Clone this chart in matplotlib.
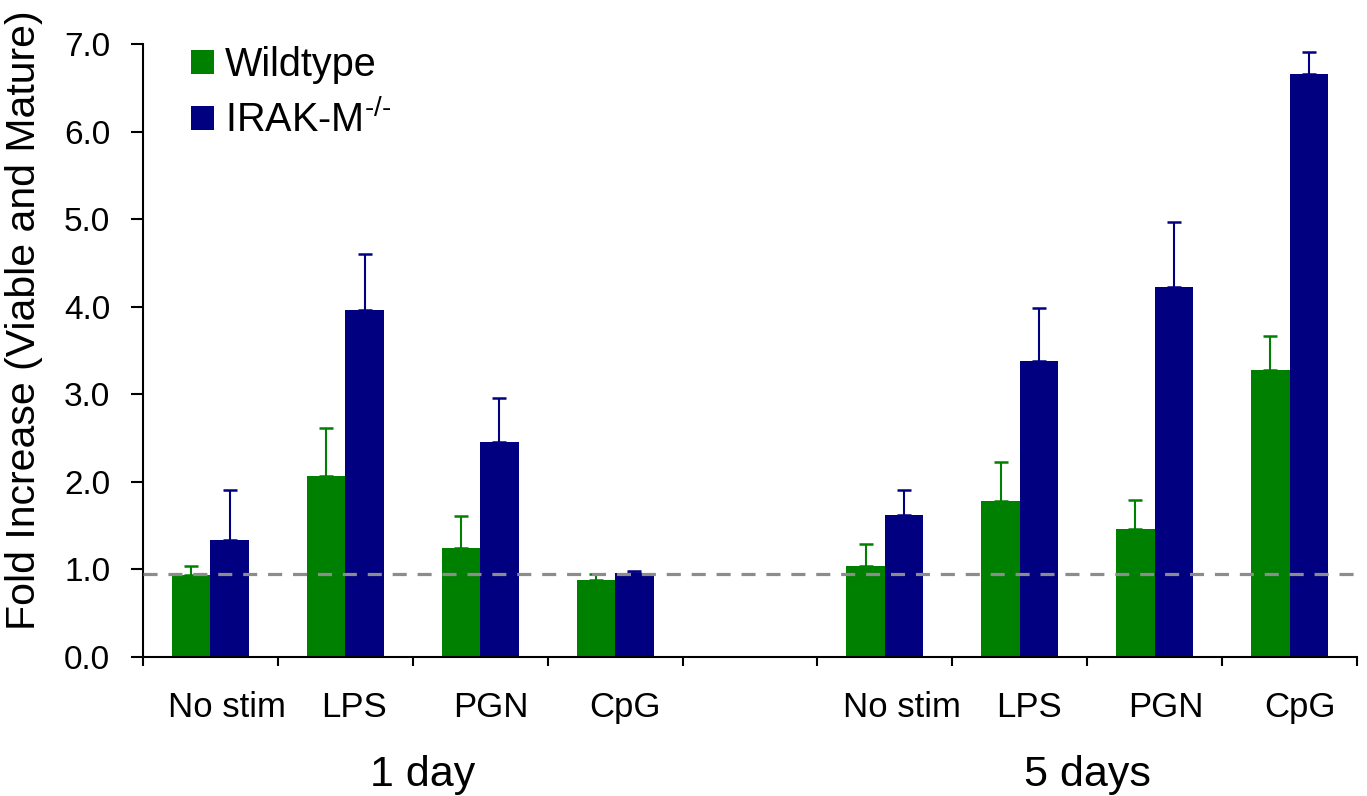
"""Fold increase of viable and mature cells: wildtype vs IRAK-M-/- after 1 and 5 days."""

from __future__ import annotations

import matplotlib

matplotlib.use("Agg")

import matplotlib.pyplot as plt
import numpy as np
from matplotlib.patches import Patch


TIMEPOINTS = ["1 day", "5 days"]
STIMULI = ["No stim", "LPS", "PGN", "CpG"]

WT_MEANS = [0.94, 2.07, 1.24, 0.88, 1.04, 1.78, 1.46, 3.28]
WT_ERRORS = [0.10, 0.55, 0.37, 0.07, 0.25, 0.45, 0.33, 0.39]
KO_MEANS = [1.34, 3.96, 2.45, 0.96, 1.62, 3.38, 4.23, 6.66]
KO_ERRORS = [0.57, 0.64, 0.51, 0.02, 0.29, 0.61, 0.74, 0.25]

BASELINE = 0.95
SERIES_LABELS = ["Wildtype", "IRAK-M$^{\\mathregular{\u2010/\u2010}}$"]

WT_COLOR = "#008000"
KO_COLOR = "#000080"
BAR_WIDTH = 0.285
LABEL_SHIFT = [0.125, 0.067, 0.08, 0.074]
GROUP_LABEL_X = [2.07, 7.0]


def slot_positions() -> np.ndarray:
    """Centre of every category slot; one empty slot separates the timepoints."""
    slots = [g * (len(STIMULI) + 1) + i for g in range(len(TIMEPOINTS)) for i in range(len(STIMULI))]
    return np.array(slots, dtype=float) + 0.5


def main() -> None:
    plt.rcParams["font.family"] = ["Liberation Sans", "DejaVu Sans"]
    plt.rcParams["mathtext.fontset"] = "custom"
    plt.rcParams["mathtext.rm"] = "Liberation Sans"

    fig = plt.figure(figsize=(13.67, 7.96), dpi=100)
    ax = fig.add_axes([0.1046, 0.1746, 0.8881, 0.7701])

    x = slot_positions()
    n_slots = len(TIMEPOINTS) * (len(STIMULI) + 1) - 1

    ax.bar(x - BAR_WIDTH / 2, WT_MEANS, width=BAR_WIDTH, color=WT_COLOR, zorder=2)
    ax.bar(x + BAR_WIDTH / 2, KO_MEANS, width=BAR_WIDTH, color=KO_COLOR, zorder=2)

    zeros = np.zeros(len(x))
    ax.errorbar(x - BAR_WIDTH / 2, WT_MEANS, yerr=[zeros, WT_ERRORS], fmt="none",
                ecolor=WT_COLOR, elinewidth=1.5, capsize=5, capthick=1.8, zorder=1)
    ax.errorbar(x + BAR_WIDTH / 2, KO_MEANS, yerr=[zeros, KO_ERRORS], fmt="none",
                ecolor=KO_COLOR, elinewidth=1.5, capsize=5, capthick=1.8, zorder=1)

    ax.axhline(BASELINE, color="#8c8c8c", linewidth=2.3, dashes=(4.4, 3.4), zorder=3)

    ax.set_xlim(0, n_slots)
    ax.set_ylim(0, 7)
    ax.set_yticks(np.arange(0, 8))
    ax.set_yticklabels([f"{v:.1f}" for v in range(8)])
    ax.set_xticks(np.arange(0, n_slots + 1))
    ax.set_xticklabels([])

    for side in ("top", "right"):
        ax.spines[side].set_visible(False)
    for side in ("left", "bottom"):
        ax.spines[side].set_linewidth(1.5)

    ax.tick_params(axis="y", direction="out", length=8.5, width=1.5, pad=15, labelsize=24)
    ax.tick_params(axis="x", direction="out", length=6.5, width=1.5)

    trans = ax.get_xaxis_transform()
    for pos, label in zip(x, STIMULI * len(TIMEPOINTS)):
        shift = LABEL_SHIFT[STIMULI.index(label)]
        ax.text(pos + shift, -0.098, label, transform=trans, ha="center",
                va="baseline", fontsize=25)
    for pos, label in zip(GROUP_LABEL_X, TIMEPOINTS):
        ax.text(pos, -0.211, label, transform=trans, ha="center",
                va="baseline", fontsize=31)

    ax.set_ylabel("Fold Increase (Viable and Mature)", fontsize=29.5)
    ax.yaxis.set_label_coords(-0.0824, 0.55)

    handles = [Patch(facecolor=WT_COLOR), Patch(facecolor=KO_COLOR)]
    ax.legend(handles, SERIES_LABELS, loc="upper left", bbox_to_anchor=(0.0395, 0.997),
              frameon=False, fontsize=28.5, handlelength=0.58, handleheight=0.58,
              handletextpad=0.28, labelspacing=0.4, borderpad=0, borderaxespad=0)

    fig.savefig("out.png", dpi=100)
    plt.close(fig)


if __name__ == "__main__":
    main()
